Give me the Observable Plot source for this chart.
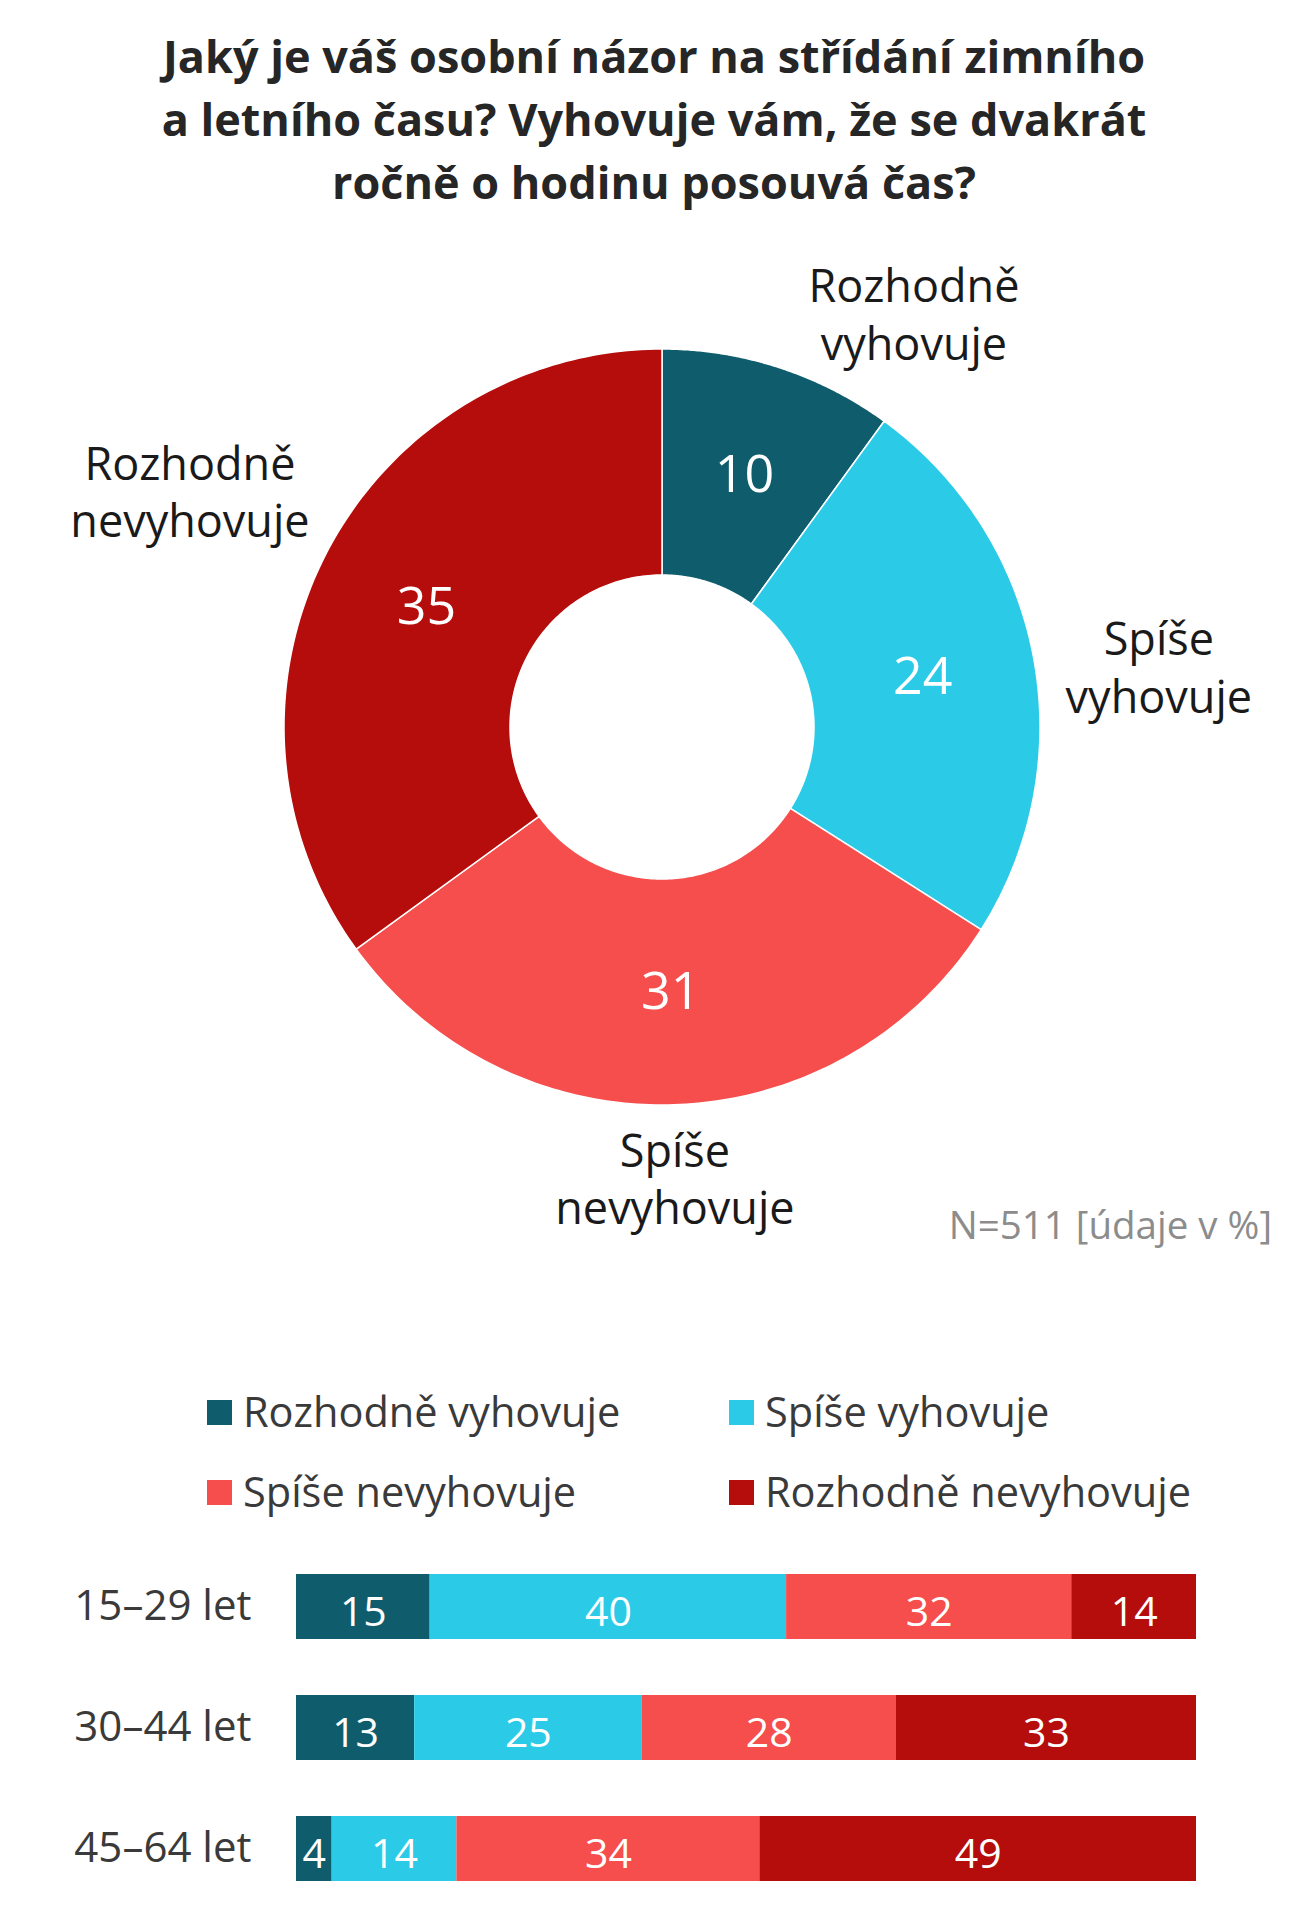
<!DOCTYPE html>
<html><head><meta charset="utf-8">
<script src="https://cdn.jsdelivr.net/npm/d3@7"></script>
<script src="https://cdn.jsdelivr.net/npm/@observablehq/plot@0.6"></script>
<style>
body{margin:0;background:#fff;font-family:"Open Sans",sans-serif;}
#wrap{position:relative;width:1308px;height:1920px;overflow:hidden;background:#fff;}
#title{position:absolute;left:0;top:24px;width:1308px;text-align:center;font-weight:700;font-size:45px;line-height:63px;color:#262626;}
#donut{position:absolute;left:0;top:230px;}
#note{position:absolute;right:36px;top:1203px;font-size:38.5px;line-height:42px;color:#8c8c8c;}
#bars{position:absolute;left:0;top:1540px;}
.lg{position:absolute;font-size:41.5px;line-height:50px;color:#3a3a3a;white-space:nowrap;}
.sw{position:absolute;width:25px;height:25px;}
</style></head><body>
<div id="wrap">
 <div id="title">Jaký je váš osobní názor na střídání zimního<br>a letního času? Vyhovuje vám, že se dvakrát<br>ročně o hodinu posouvá čas?</div>
 <div id="donut"></div>
 <div id="note">N=511 [údaje v %]</div>
 <div id="legend"></div>
 <div id="bars"></div>
</div>
<script>
// ---- data ----
const categories = ["Rozhodně vyhovuje", "Spíše vyhovuje", "Spíše nevyhovuje", "Rozhodně nevyhovuje"];
const donutLabels = ["Rozhodně\nvyhovuje", "Spíše\nvyhovuje", "Spíše\nnevyhovuje", "Rozhodně\nnevyhovuje"];
const totalValues = [10, 24, 31, 35];
const ageGroups = ["15–29 let", "30–44 let", "45–64 let"];
const age1529 = [15, 40, 32, 14];
const age3044 = [13, 25, 28, 33];
const age4564 = [4, 14, 34, 49];
const colors = ["#0f5d6c", "#2bcbe8", "#f54e4d", "#b40d0b"];

// ---- layout ----
const R = 378, r = 152, midR = (R + r) / 2, labelR = 490;
const labelNudge = [[100, -51], [15, -30], [-3, 40], [-36, 15]];

const pie = d3.pie().sort(null).value(d => d.value)(
  categories.map((c, i) => ({cat: c, value: totalValues[i], label: donutLabels[i]}))
);
const ringPts = [];
const valuePts = [];
const labelPts = [];
pie.forEach((a, i) => {
  const n = 120;
  for (let k = 0; k <= n; k++) {
    const t = a.startAngle + (a.endAngle - a.startAngle) * k / n;
    ringPts.push({cat: a.data.cat, xo: R * Math.sin(t), yo: R * Math.cos(t), xi: r * Math.sin(t), yi: r * Math.cos(t)});
  }
  const m = (a.startAngle + a.endAngle) / 2;
  valuePts.push({x: midR * Math.sin(m), y: midR * Math.cos(m), text: String(a.data.value)});
  labelPts.push({x: labelR * Math.sin(m) + labelNudge[i][0], y: labelR * Math.cos(m) + labelNudge[i][1], text: a.data.label});
});

const donut = Plot.plot({
  width: 1308, height: 1050, margin: 0,
  x: {domain: [-662, 646], axis: null},
  y: {domain: [-553, 497], axis: null},
  color: {domain: categories, range: colors},
  style: {fontFamily: "Open Sans", background: "transparent", overflow: "visible"},
  marks: [
    Plot.area(ringPts, {x1: "xo", y1: "yo", x2: "xi", y2: "yi", z: "cat", fill: "cat", stroke: "white", strokeWidth: 1.5, curve: "linear"}),
    Plot.text(valuePts, {x: "x", y: "y", text: "text", fill: "white", fontSize: 52}),
    Plot.text(labelPts, {x: "x", y: "y", text: "text", fill: "#1a1a1a", fontSize: 45, lineHeight: 1.28})
  ]
});
document.getElementById("donut").appendChild(donut);

// ---- legend ----
const legendPos = [[207, 1412], [729, 1412], [207, 1492], [729, 1492]];
const lg = document.getElementById("legend");
categories.forEach((c, i) => {
  const [lx, cy] = legendPos[i];
  const sw = document.createElement("div");
  sw.className = "sw"; sw.style.left = lx + "px"; sw.style.top = (cy - 12) + "px"; sw.style.background = colors[i];
  const tx = document.createElement("div");
  tx.className = "lg"; tx.style.left = (lx + 36) + "px"; tx.style.top = (cy - 26) + "px"; tx.textContent = c;
  lg.appendChild(sw); lg.appendChild(tx);
});

// ---- bars ----
const groupValues = [age1529, age3044, age4564];
const barData = [];
ageGroups.forEach((g, gi) => categories.forEach((c, ci) => barData.push({group: g, cat: c, value: groupValues[gi][ci]})));

const bars = Plot.plot({
  width: 1308, height: 380, marginLeft: 296, marginRight: 112, marginTop: 6, marginBottom: 10,
  x: {axis: null},
  y: {domain: ageGroups, paddingInner: 0.46, paddingOuter: 0.23},
  color: {domain: categories, range: colors},
  style: {fontFamily: "Open Sans", background: "transparent", overflow: "visible"},
  marks: [
    Plot.barX(barData, Plot.stackX({x: "value", y: "group", fill: "cat", offset: "normalize"})),
    Plot.text(barData, Plot.stackX({x: "value", y: "group", z: "cat", text: "value", offset: "normalize", fill: "white", fontSize: 41, dy: 6})),
    Plot.axisY({tickSize: 0, tickPadding: 45, fontSize: 42, fill: "#3a3a3a", label: null})
  ]
});
document.getElementById("bars").appendChild(bars);
</script>
</body></html>
